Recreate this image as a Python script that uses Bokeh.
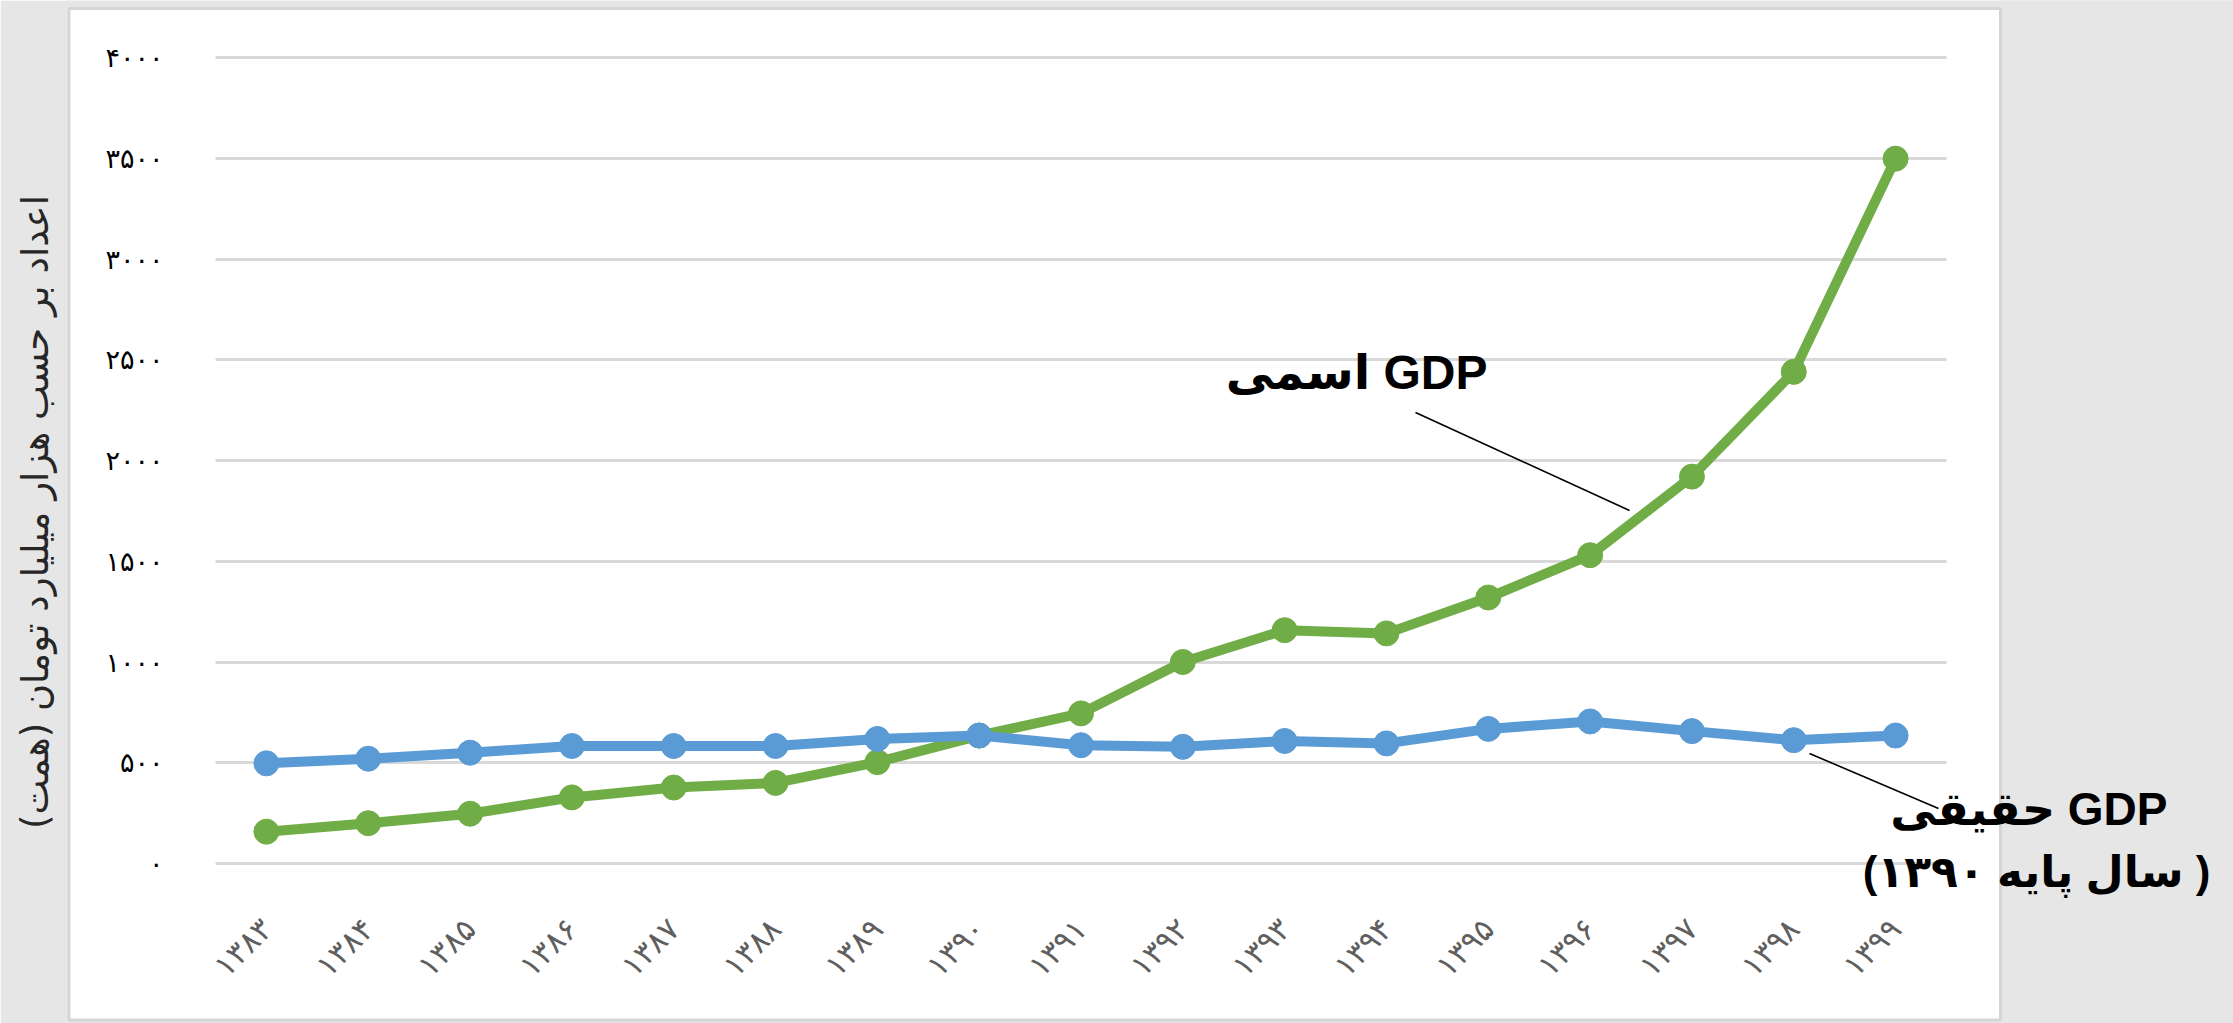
import math
from bokeh.plotting import figure
from bokeh.models import ColumnDataSource, Range1d, FixedTicker, Label
from bokeh.embed import file_html
from bokeh.resources import INLINE

# ---------------- data ----------------
years = ["۱۳۸۳", "۱۳۸۴", "۱۳۸۵", "۱۳۸۶", "۱۳۸۷", "۱۳۸۸", "۱۳۸۹", "۱۳۹۰", "۱۳۹۱",
         "۱۳۹۲", "۱۳۹۳", "۱۳۹۴", "۱۳۹۵", "۱۳۹۶", "۱۳۹۷", "۱۳۹۸", "۱۳۹۹"]
nominal_gdp = [158, 200, 247, 328, 377, 400, 503, 635, 745, 1000, 1158, 1142, 1320, 1530, 1920, 2440, 3498]
real_gdp = [497, 520, 550, 583, 583, 583, 618, 635, 587, 579, 608, 596, 668, 705, 657, 612, 635]
y_ticks = [0, 500, 1000, 1500, 2000, 2500, 3000, 3500, 4000]
y_tick_labels = ["۰", "۵۰۰", "۱۰۰۰", "۱۵۰۰", "۲۰۰۰", "۲۵۰۰", "۳۰۰۰", "۳۵۰۰", "۴۰۰۰"]
y_title = "اعداد بر حسب هزار میلیارد تومان (همت)"
nominal_label = "GDP اسمی"
real_label_1 = "GDP حقیقی"
real_label_2 = "( سال پایه ۱۳۹۰)"

RLE, PDF = "\u202b", "\u202c"

# ---------------- layout (canvas pixels) ----------------
W, H = 2233, 1023
FRAME_L = 66                      # left panel (gray strip) holds the y title
PX_XA, PX_XB = 215, 1946          # pixel span of the category slots
PX_Y0, PX_Y4000 = 863, 57         # pixel rows of value 0 and 4000
NCAT = len(years)


def xd(px):
    return -0.5 + (px - PX_XA) * NCAT / (PX_XB - PX_XA)


def yd(py):
    return (PX_Y0 - py) * 4000 / (PX_Y0 - PX_Y4000)


GREEN = "#70ad47"
BLUE = "#5b9bd5"
GRAY = "#e7e6e6"
EDGE = "#d6d6d6"
GRID = "#d9d9d9"

p = figure(width=W, height=H,
           x_range=Range1d(xd(FRAME_L), xd(W)), y_range=Range1d(yd(H), yd(0)),
           output_backend="svg", toolbar_location=None,
           min_border_left=FRAME_L, min_border_right=0,
           min_border_top=0, min_border_bottom=0,
           background_fill_color=GRAY, border_fill_color=GRAY,
           outline_line_color=None)

# white chart panel (behind the grid)
panel = p.quad(left=xd(68.5), right=xd(2000), top=yd(7), bottom=yd(1020),
               fill_color="white", line_color=None)
panel.level = "image"

# grid
p.xgrid.visible = False
p.ygrid.ticker = FixedTicker(ticks=y_ticks)
p.ygrid.grid_line_color = GRID
p.ygrid.grid_line_width = 3

# trim the grid lines to the category span (cover their ends)
p.quad(left=[xd(FRAME_L - 10), xd(68.5), xd(PX_XB), xd(2000)],
       right=[xd(68.5), xd(PX_XA), xd(2000), xd(W + 10)],
       top=[yd(-10), yd(7), yd(7), yd(-10)],
       bottom=[yd(H + 10), yd(1020), yd(1020), yd(H + 10)],
       fill_color=[GRAY, "white", "white", GRAY], line_color=None)
# panel border
p.quad(left=xd(68.5), right=xd(2000), top=yd(8), bottom=yd(1019.5),
       fill_color=None, line_color=EDGE, line_width=3)

# axes
p.yaxis.ticker = FixedTicker(ticks=y_ticks)
p.yaxis.major_label_overrides = dict(zip(y_ticks, y_tick_labels))
p.yaxis.axis_line_color = None
p.yaxis.major_tick_line_color = None
p.yaxis.minor_tick_line_color = None
p.yaxis.major_tick_out = 0
p.yaxis.minor_tick_out = 0
p.yaxis.major_label_text_font = "DejaVu Sans"
p.yaxis.major_label_text_font_size = "27px"
p.yaxis.major_label_text_color = "#000000"
p.yaxis.major_label_standoff = -(163 - FRAME_L)
p.yaxis.axis_label = RLE + y_title + PDF
p.yaxis.axis_label_text_font = "DejaVu Sans"
p.yaxis.axis_label_text_font_style = "normal"
p.yaxis.axis_label_text_font_size = "37px"
p.yaxis.axis_label_text_color = "#262626"
p.yaxis.axis_label_standoff = 45

xs = list(range(NCAT))
p.xaxis.ticker = FixedTicker(ticks=xs)
p.xaxis.major_label_overrides = dict(zip(xs, years))
p.xaxis.major_label_orientation = math.pi / 4
p.xaxis.axis_line_color = None
p.xaxis.major_tick_line_color = None
p.xaxis.minor_tick_line_color = None
p.xaxis.major_tick_out = 0
p.xaxis.minor_tick_out = 0
p.xaxis.major_label_text_font = "DejaVu Sans"
p.xaxis.major_label_text_font_size = "31px"
p.xaxis.major_label_text_color = "#5f5f5f"
p.xaxis.major_label_standoff = -(H - 923)

# leader lines
p.segment(x0=[xd(1415), xd(1809)], y0=[yd(412), yd(753)],
          x1=[xd(1629), xd(1938)], y1=[yd(510), yd(808)],
          line_color="black", line_width=1.6)

# series
src = ColumnDataSource(dict(x=xs, nominal=nominal_gdp, real=real_gdp, year=years))
p.line("x", "nominal", source=src, line_color=GREEN, line_width=10, line_join="round", line_cap="round")
p.scatter("x", "nominal", source=src, size=25, fill_color=GREEN, line_color=GREEN)
p.line("x", "real", source=src, line_color=BLUE, line_width=10, line_join="round", line_cap="round")
p.scatter("x", "real", source=src, size=25, fill_color=BLUE, line_color=BLUE)

ann_font = "Liberation Sans, DejaVu Sans"
p.add_layout(Label(x=xd(1487), y=yd(372), text=RLE + nominal_label + PDF,
                   text_align="right", text_baseline="alphabetic",
                   text_font=ann_font, text_font_style="bold", text_font_size="48px",
                   text_color="black"))
p.add_layout(Label(x=xd(2167), y=yd(808), text=RLE + real_label_1 + PDF,
                   text_align="right", text_baseline="alphabetic",
                   text_font=ann_font, text_font_style="bold", text_font_size="46px",
                   text_color="black"))
p.add_layout(Label(x=xd(2036), y=yd(871), text=RLE + real_label_2 + PDF,
                   text_align="center", text_baseline="alphabetic",
                   text_font=ann_font, text_font_style="bold", text_font_size="44px",
                   text_color="black"))

open("out.html", "w").write(file_html(p, INLINE))
